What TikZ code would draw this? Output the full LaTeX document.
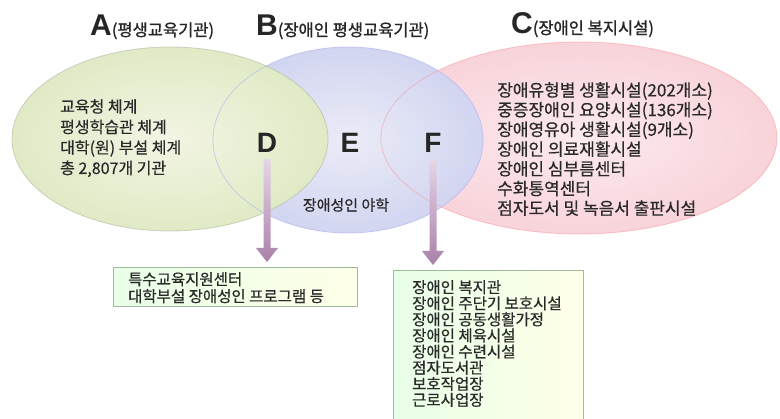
\documentclass[tikz,border=0pt]{standalone}
\usepackage{fontspec}
\usetikzlibrary{calc,arrows.meta}
\newfontfamily\kr[FakeBold=0.6]{Noto Sans CJK KR}
\newfontfamily\krb[FakeBold=1.2]{Noto Sans CJK KR}
\newfontfamily\lat{Liberation Sans}
\definecolor{ellAin}{HTML}{F2F5E3}
\definecolor{ellAout}{HTML}{E0EAC6}
\definecolor{ellBin}{HTML}{EBECF8}
\definecolor{ellBout}{HTML}{D2D5F0}
\definecolor{ellCin}{HTML}{FCEBEE}
\definecolor{ellCout}{HTML}{F8D3DA}
\definecolor{txt}{HTML}{2A2A2A}
\definecolor{arrtop}{HTML}{E6D6E6}
\definecolor{arrbot}{HTML}{A980AA}
\tikzset{
  ell/.style={shading=radial},
  edge/.style={draw opacity=0.5, line width=0.8pt},
  lab/.style={inner sep=0pt, text=txt, align=left},
  big/.style={inner sep=0pt, text=black!85, font=\lat\bfseries\fontsize{28}{28}\selectfont},
  ttl/.style={inner sep=0pt, text=black!85, anchor=base west},
  infobox/.style={draw=black!30!green!25!gray!60, line width=0.6pt, left color=green!9!white, right color=yellow!9!white},
}
\begin{document}
\begin{tikzpicture}[x=1pt,y=-1pt]
\useasboundingbox (0,0) rectangle (780,419);
\fill[white] (0,0) rectangle (780,419);
% ellipses (C bottom, B middle, A top)
\shade[ell, inner color=ellCin, outer color=ellCout] (579,138) ellipse (198 and 96);
\shade[ell, inner color=ellBin, outer color=ellBout] (348,140) ellipse (135 and 93);
\shade[ell, inner color=ellAin, outer color=ellAout] (170,139) ellipse (158 and 92);
\draw[edge, draw=ellCout!70!red] (579,138) ellipse (198 and 96);
\draw[edge, draw=ellBout!80!blue] (348,140) ellipse (135 and 93);
\draw[edge, draw=ellAout!75!black] (170,139) ellipse (158 and 92);
% titles
\node[ttl] (tA) at (90,36) {{\lat\bfseries\fontsize{30}{30}\selectfont A}{\krb\fontsize{16.5}{16.5}\selectfont (평생교육기관)}};
\node[ttl] (tB) at (256,36) {{\lat\bfseries\fontsize{30}{30}\selectfont B}{\krb\fontsize{16.5}{16.5}\selectfont (장애인 평생교육기관)}};
\node[ttl] (tC) at (511,34) {{\lat\bfseries\fontsize{30}{30}\selectfont C}{\krb\fontsize{16.5}{16.5}\selectfont (장애인 복지시설)}};
% ellipse texts
\node[lab, anchor=north west, font=\kr\fontsize{16}{20.5}\selectfont] (txtA) at (60,99) {교육청 체계\\평생학습관 체계\\대학(원) 부설 체계\\총 2,807개 기관};
\node[lab, anchor=north west, font=\kr\fontsize{17}{19.7}\selectfont] (txtC) at (497,82) {장애유형별 생활시설(202개소)\\중증장애인 요양시설(136개소)\\장애영유아 생활시설(9개소)\\장애인 의료재활시설\\장애인 심부름센터\\수화통역센터\\점자도서 및 녹음서 출판시설};
\node[lab, font=\kr\fontsize{15}{15}\selectfont] (txtE) at (346,205) {장애성인 야학};
% letters
\node[big] (D) at (267,143) {D};
\node[big] (E) at (350,143) {E};
\node[big] (F) at (433,143) {F};
% boxes
\node[infobox, anchor=north west, minimum width=244pt, minimum height=39pt, inner sep=0pt] (boxD) at (113,267) {};
\node[lab, anchor=north west, font=\kr\fontsize{15.5}{17}\selectfont] (txtD) at (128,272) {특수교육지원센터\\대학부설 장애성인 프로그램 등};
\node[infobox, anchor=north west, minimum width=190pt, minimum height=152pt, inner sep=0pt] (boxF) at (393,270) {};
\node[lab, anchor=north west, font=\kr\fontsize{15.5}{16.1}\selectfont] (txtF) at (412,280) {장애인 복지관\\장애인 주단기 보호시설\\장애인 공동생활가정\\장애인 체육시설\\장애인 수련시설\\점자도서관\\보호작업장\\근로사업장};
% arrows
\foreach \s/\t in {D/boxD, F/boxF}{
  \shade[top color=arrtop, bottom color=arrbot]
    let \p1=($(\s.south)+(0,6)$), \p2=($(\t.north)+(0,-5)$) in
    (\x1-3.5,\y1) -- (\x1+3.5,\y1) -- (\x1+3.5,\y2+14) -- (\x1+11,\y2+14) -- (\x1,\y2) -- (\x1-11,\y2+14) -- (\x1-3.5,\y2+14) -- cycle;
}
\end{tikzpicture}
\end{document}
